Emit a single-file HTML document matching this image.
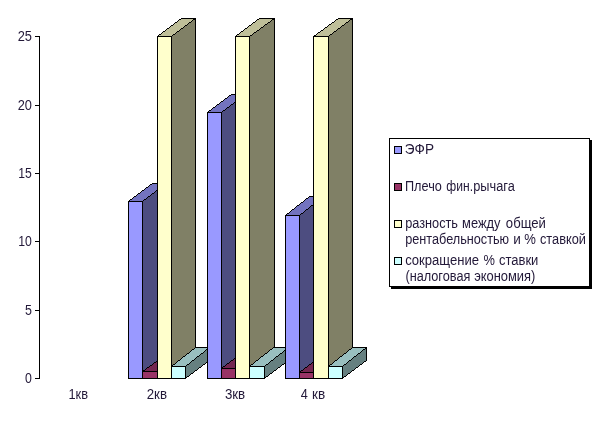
<!DOCTYPE html>
<html lang="ru"><head><meta charset="utf-8"><title>Chart</title>
<style>
html,body{margin:0;padding:0;background:#fff;}
body{width:601px;height:424px;overflow:hidden;}
svg{display:block;}
text{font-family:"Liberation Sans",sans-serif;font-size:14px;fill:#221838;}
</style></head>
<body>
<svg width="601" height="424" viewBox="0 0 601 424">
<rect width="601" height="424" fill="#fff"/>
<g shape-rendering="crispEdges">
<rect x="39" y="36" width="1" height="343"/>
<rect x="35" y="36" width="4" height="1"/><rect x="35" y="105" width="4" height="1"/><rect x="35" y="173" width="4" height="1"/><rect x="35" y="241" width="4" height="1"/><rect x="35" y="310" width="4" height="1"/><rect x="35" y="378" width="4" height="1"/>
</g>
<g class="bars" shape-rendering="crispEdges">
<g>
<polygon points="142.5,201.5 166.5,183.5 166.5,360.5 142.5,378.5" fill="#4D4D80"/><polygon points="142,201.378 167,182.628 167,183.628 142,202.378"/><polygon points="142,378.378 167,359.628 167,360.628 142,379.378"/><rect x="166" y="183" width="1" height="178"/><rect x="142" y="201" width="1" height="178"/>
<polygon points="128.5,201.5 142.5,201.5 166.5,183.5 152.5,183.5" fill="#7373BF"/><polygon points="142,201.378 167,182.628 167,183.628 142,202.378"/><polygon points="128,201.378 153,182.628 153,183.628 128,202.378"/><rect x="128" y="201" width="15" height="1"/><rect x="152" y="183" width="15" height="1"/>
<rect x="128" y="201" width="15" height="178" fill="#000"/><rect x="129" y="202" width="13" height="176" fill="#9999FF"/>
</g>
<g>
<polygon points="157.5,371.5 181.5,354.5 181.5,360.5 157.5,378.5" fill="#4D1A33"/><polygon points="157,371.357 182,353.649 182,354.649 157,372.357"/><polygon points="157,378.378 182,359.628 182,360.628 157,379.378"/><rect x="181" y="354" width="1" height="7"/><rect x="157" y="371" width="1" height="8"/>
<polygon points="142.5,371.5 157.5,371.5 181.5,354.5 166.5,354.5" fill="#732650"/><polygon points="157,371.357 182,353.649 182,354.649 157,372.357"/><polygon points="142,371.357 167,353.649 167,354.649 142,372.357"/><rect x="142" y="371" width="16" height="1"/><rect x="166" y="354" width="16" height="1"/>
<rect x="142" y="371" width="16" height="8" fill="#000"/><rect x="143" y="372" width="14" height="6" fill="#993366"/>
</g>
<g>
<polygon points="171.5,36.5 195.5,18.5 195.5,360.5 171.5,378.5" fill="#808066"/><polygon points="171,36.378 196,17.628 196,18.628 171,37.378"/><polygon points="171,378.378 196,359.628 196,360.628 171,379.378"/><rect x="195" y="18" width="1" height="343"/><rect x="171" y="36" width="1" height="343"/>
<polygon points="157.5,36.5 171.5,36.5 195.5,18.5 181.5,18.5" fill="#BFBF99"/><polygon points="171,36.378 196,17.628 196,18.628 171,37.378"/><polygon points="157,36.378 182,17.628 182,18.628 157,37.378"/><rect x="157" y="36" width="15" height="1"/><rect x="181" y="18" width="15" height="1"/>
<rect x="157" y="36" width="15" height="343" fill="#000"/><rect x="158" y="37" width="13" height="341" fill="#FFFFCC"/>
</g>
<g>
<polygon points="185.5,366.5 209.5,347.5 209.5,360.5 185.5,378.5" fill="#668080"/><polygon points="185,366.399 210,346.607 210,347.607 185,367.399"/><polygon points="185,378.378 210,359.628 210,360.628 185,379.378"/><rect x="209" y="347" width="1" height="14"/><rect x="185" y="366" width="1" height="13"/>
<polygon points="171.5,366.5 185.5,366.5 209.5,347.5 195.5,347.5" fill="#99BFBF"/><polygon points="185,366.399 210,346.607 210,347.607 185,367.399"/><polygon points="171,366.399 196,346.607 196,347.607 171,367.399"/><rect x="171" y="366" width="15" height="1"/><rect x="195" y="347" width="15" height="1"/>
<rect x="171" y="366" width="15" height="13" fill="#000"/><rect x="172" y="367" width="13" height="11" fill="#CCFFFF"/>
</g>
<g>
<polygon points="221.5,112.5 245.5,94.5 245.5,360.5 221.5,378.5" fill="#4D4D80"/><polygon points="221,112.378 246,93.628 246,94.628 221,113.378"/><polygon points="221,378.378 246,359.628 246,360.628 221,379.378"/><rect x="245" y="94" width="1" height="267"/><rect x="221" y="112" width="1" height="267"/>
<polygon points="207.5,112.5 221.5,112.5 245.5,94.5 231.5,94.5" fill="#7373BF"/><polygon points="221,112.378 246,93.628 246,94.628 221,113.378"/><polygon points="207,112.378 232,93.628 232,94.628 207,113.378"/><rect x="207" y="112" width="15" height="1"/><rect x="231" y="94" width="15" height="1"/>
<rect x="207" y="112" width="15" height="267" fill="#000"/><rect x="208" y="113" width="13" height="265" fill="#9999FF"/>
</g>
<g>
<polygon points="235.5,368.5 259.5,350.5 259.5,360.5 235.5,378.5" fill="#4D1A33"/><polygon points="235,368.378 260,349.628 260,350.628 235,369.378"/><polygon points="235,378.378 260,359.628 260,360.628 235,379.378"/><rect x="259" y="350" width="1" height="11"/><rect x="235" y="368" width="1" height="11"/>
<polygon points="221.5,368.5 235.5,368.5 259.5,350.5 245.5,350.5" fill="#732650"/><polygon points="235,368.378 260,349.628 260,350.628 235,369.378"/><polygon points="221,368.378 246,349.628 246,350.628 221,369.378"/><rect x="221" y="368" width="15" height="1"/><rect x="245" y="350" width="15" height="1"/>
<rect x="221" y="368" width="15" height="11" fill="#000"/><rect x="222" y="369" width="13" height="9" fill="#993366"/>
</g>
<g>
<polygon points="249.5,36.5 274.5,18.5 274.5,360.5 249.5,378.5" fill="#808066"/><polygon points="249,36.363 275,17.643 275,18.643 249,37.363"/><polygon points="249,378.363 275,359.643 275,360.643 249,379.363"/><rect x="274" y="18" width="1" height="343"/><rect x="249" y="36" width="1" height="343"/>
<polygon points="235.5,36.5 249.5,36.5 274.5,18.5 259.5,18.5" fill="#BFBF99"/><polygon points="249,36.363 275,17.643 275,18.643 249,37.363"/><polygon points="235,36.378 260,17.628 260,18.628 235,37.378"/><rect x="235" y="36" width="15" height="1"/><rect x="259" y="18" width="16" height="1"/>
<rect x="235" y="36" width="15" height="343" fill="#000"/><rect x="236" y="37" width="13" height="341" fill="#FFFFCC"/>
</g>
<g>
<polygon points="264.5,366.5 288.5,347.5 288.5,360.5 264.5,378.5" fill="#668080"/><polygon points="264,366.399 289,346.607 289,347.607 264,367.399"/><polygon points="264,378.378 289,359.628 289,360.628 264,379.378"/><rect x="288" y="347" width="1" height="14"/><rect x="264" y="366" width="1" height="13"/>
<polygon points="249.5,366.5 264.5,366.5 288.5,347.5 273.5,347.5" fill="#99BFBF"/><polygon points="264,366.399 289,346.607 289,347.607 264,367.399"/><polygon points="249,366.399 274,346.607 274,347.607 249,367.399"/><rect x="249" y="366" width="16" height="1"/><rect x="273" y="347" width="16" height="1"/>
<rect x="249" y="366" width="16" height="13" fill="#000"/><rect x="250" y="367" width="14" height="11" fill="#CCFFFF"/>
</g>
<g>
<polygon points="299.5,215.5 323.5,196.5 323.5,360.5 299.5,378.5" fill="#4D4D80"/><polygon points="299,215.399 324,195.607 324,196.607 299,216.399"/><polygon points="299,378.378 324,359.628 324,360.628 299,379.378"/><rect x="323" y="196" width="1" height="165"/><rect x="299" y="215" width="1" height="164"/>
<polygon points="285.5,215.5 299.5,215.5 323.5,196.5 309.5,196.5" fill="#7373BF"/><polygon points="299,215.399 324,195.607 324,196.607 299,216.399"/><polygon points="285,215.399 310,195.607 310,196.607 285,216.399"/><rect x="285" y="215" width="15" height="1"/><rect x="309" y="196" width="15" height="1"/>
<rect x="285" y="215" width="15" height="164" fill="#000"/><rect x="286" y="216" width="13" height="162" fill="#9999FF"/>
</g>
<g>
<polygon points="313.5,372.5 337.5,354.5 337.5,360.5 313.5,378.5" fill="#4D1A33"/><polygon points="313,372.378 338,353.628 338,354.628 313,373.378"/><polygon points="313,378.378 338,359.628 338,360.628 313,379.378"/><rect x="337" y="354" width="1" height="7"/><rect x="313" y="372" width="1" height="7"/>
<polygon points="299.5,372.5 313.5,372.5 337.5,354.5 323.5,354.5" fill="#732650"/><polygon points="313,372.378 338,353.628 338,354.628 313,373.378"/><polygon points="299,372.378 324,353.628 324,354.628 299,373.378"/><rect x="299" y="372" width="15" height="1"/><rect x="323" y="354" width="15" height="1"/>
<rect x="299" y="372" width="15" height="7" fill="#000"/><rect x="300" y="373" width="13" height="5" fill="#993366"/>
</g>
<g>
<polygon points="328.5,36.5 352.5,18.5 352.5,360.5 328.5,378.5" fill="#808066"/><polygon points="328,36.378 353,17.628 353,18.628 328,37.378"/><polygon points="328,378.378 353,359.628 353,360.628 328,379.378"/><rect x="352" y="18" width="1" height="343"/><rect x="328" y="36" width="1" height="343"/>
<polygon points="313.5,36.5 328.5,36.5 352.5,18.5 338.5,18.5" fill="#BFBF99"/><polygon points="328,36.378 353,17.628 353,18.628 328,37.378"/><polygon points="313,36.363 339,17.643 339,18.643 313,37.363"/><rect x="313" y="36" width="16" height="1"/><rect x="338" y="18" width="15" height="1"/>
<rect x="313" y="36" width="16" height="343" fill="#000"/><rect x="314" y="37" width="14" height="341" fill="#FFFFCC"/>
</g>
<g>
<polygon points="342.5,366.5 366.5,347.5 366.5,360.5 342.5,378.5" fill="#668080"/><polygon points="342,366.399 367,346.607 367,347.607 342,367.399"/><polygon points="342,378.378 367,359.628 367,360.628 342,379.378"/><rect x="366" y="347" width="1" height="14"/><rect x="342" y="366" width="1" height="13"/>
<polygon points="328.5,366.5 342.5,366.5 366.5,347.5 352.5,347.5" fill="#99BFBF"/><polygon points="342,366.399 367,346.607 367,347.607 342,367.399"/><polygon points="328,366.399 353,346.607 353,347.607 328,367.399"/><rect x="328" y="366" width="15" height="1"/><rect x="352" y="347" width="15" height="1"/>
<rect x="328" y="366" width="15" height="13" fill="#000"/><rect x="329" y="367" width="13" height="11" fill="#CCFFFF"/>
</g>
</g>
<g shape-rendering="crispEdges">
<rect x="391" y="140" width="201" height="149" fill="#000"/>
<rect x="389" y="138" width="201" height="149" fill="#000"/>
<rect x="390" y="139" width="199" height="147" fill="#fff"/>
<rect x="394" y="146" width="8" height="8" fill="#000"/><rect x="395" y="147" width="6" height="6" fill="#9999FF"/><rect x="394" y="183" width="8" height="8" fill="#000"/><rect x="395" y="184" width="6" height="6" fill="#993366"/><rect x="394" y="220" width="8" height="8" fill="#000"/><rect x="395" y="221" width="6" height="6" fill="#FFFFCC"/><rect x="394" y="257" width="8" height="8" fill="#000"/><rect x="395" y="258" width="6" height="6" fill="#CCFFFF"/>
</g>
<g class="axis"><text y="41"><tspan x="17.65" textLength="14.29" lengthAdjust="spacingAndGlyphs">25</tspan></text>
<text y="110"><tspan x="17.66" textLength="14.24" lengthAdjust="spacingAndGlyphs">20</tspan></text>
<text y="178"><tspan x="18.27" textLength="13.54" lengthAdjust="spacingAndGlyphs">15</tspan></text>
<text y="246"><tspan x="18.27" textLength="13.61" lengthAdjust="spacingAndGlyphs">10</tspan></text>
<text y="315"><tspan x="24.90" textLength="6.92" lengthAdjust="spacingAndGlyphs">5</tspan></text>
<text y="383"><tspan x="24.92" textLength="6.86" lengthAdjust="spacingAndGlyphs">0</tspan></text><text y="399"><tspan x="68.42" textLength="19.53" lengthAdjust="spacingAndGlyphs">1кв</tspan></text>
<text y="399"><tspan x="146.73" textLength="20.24" lengthAdjust="spacingAndGlyphs">2кв</tspan></text>
<text y="399"><tspan x="224.89" textLength="20.28" lengthAdjust="spacingAndGlyphs">3кв</tspan></text>
<text y="399"><tspan x="300.71" textLength="7.06" lengthAdjust="spacingAndGlyphs">4</tspan> <tspan x="312.09" textLength="13.10" lengthAdjust="spacingAndGlyphs">кв</tspan></text></g>
<g class="legend"><text y="154"><tspan x="404.80" textLength="29.22" lengthAdjust="spacingAndGlyphs">ЭФР</tspan></text>
<text y="191"><tspan x="404.98" textLength="36.84" lengthAdjust="spacingAndGlyphs">Плечо</tspan> <tspan x="446.29" textLength="26.71" lengthAdjust="spacingAndGlyphs">фин.</tspan><tspan x="473.28" textLength="41.52" lengthAdjust="spacingAndGlyphs">рычага</tspan></text>
<text y="228"><tspan x="405.18" textLength="52.84" lengthAdjust="spacingAndGlyphs">разность</tspan> <tspan x="462.11" textLength="38.41" lengthAdjust="spacingAndGlyphs">между</tspan> <tspan x="505.85" textLength="40.05" lengthAdjust="spacingAndGlyphs">общей</tspan></text>
<text y="244"><tspan x="405.19" textLength="103.94" lengthAdjust="spacingAndGlyphs">рентабельностью</tspan> <tspan x="513.16" textLength="7.58" lengthAdjust="spacingAndGlyphs">и</tspan> <tspan x="524.33" textLength="11.63" lengthAdjust="spacingAndGlyphs">%</tspan> <tspan x="539.96" textLength="45.93" lengthAdjust="spacingAndGlyphs">ставкой</tspan></text>
<text y="265"><tspan x="405.14" textLength="73.94" lengthAdjust="spacingAndGlyphs">сокращение</tspan> <tspan x="483.54" textLength="11.42" lengthAdjust="spacingAndGlyphs">%</tspan> <tspan x="498.95" textLength="39.45" lengthAdjust="spacingAndGlyphs">ставки</tspan></text>
<text y="281"><tspan x="405.41" textLength="64.96" lengthAdjust="spacingAndGlyphs">(налоговая</tspan> <tspan x="474.15" textLength="61.15" lengthAdjust="spacingAndGlyphs">экономия)</tspan></text></g>
</svg>
</body></html>
